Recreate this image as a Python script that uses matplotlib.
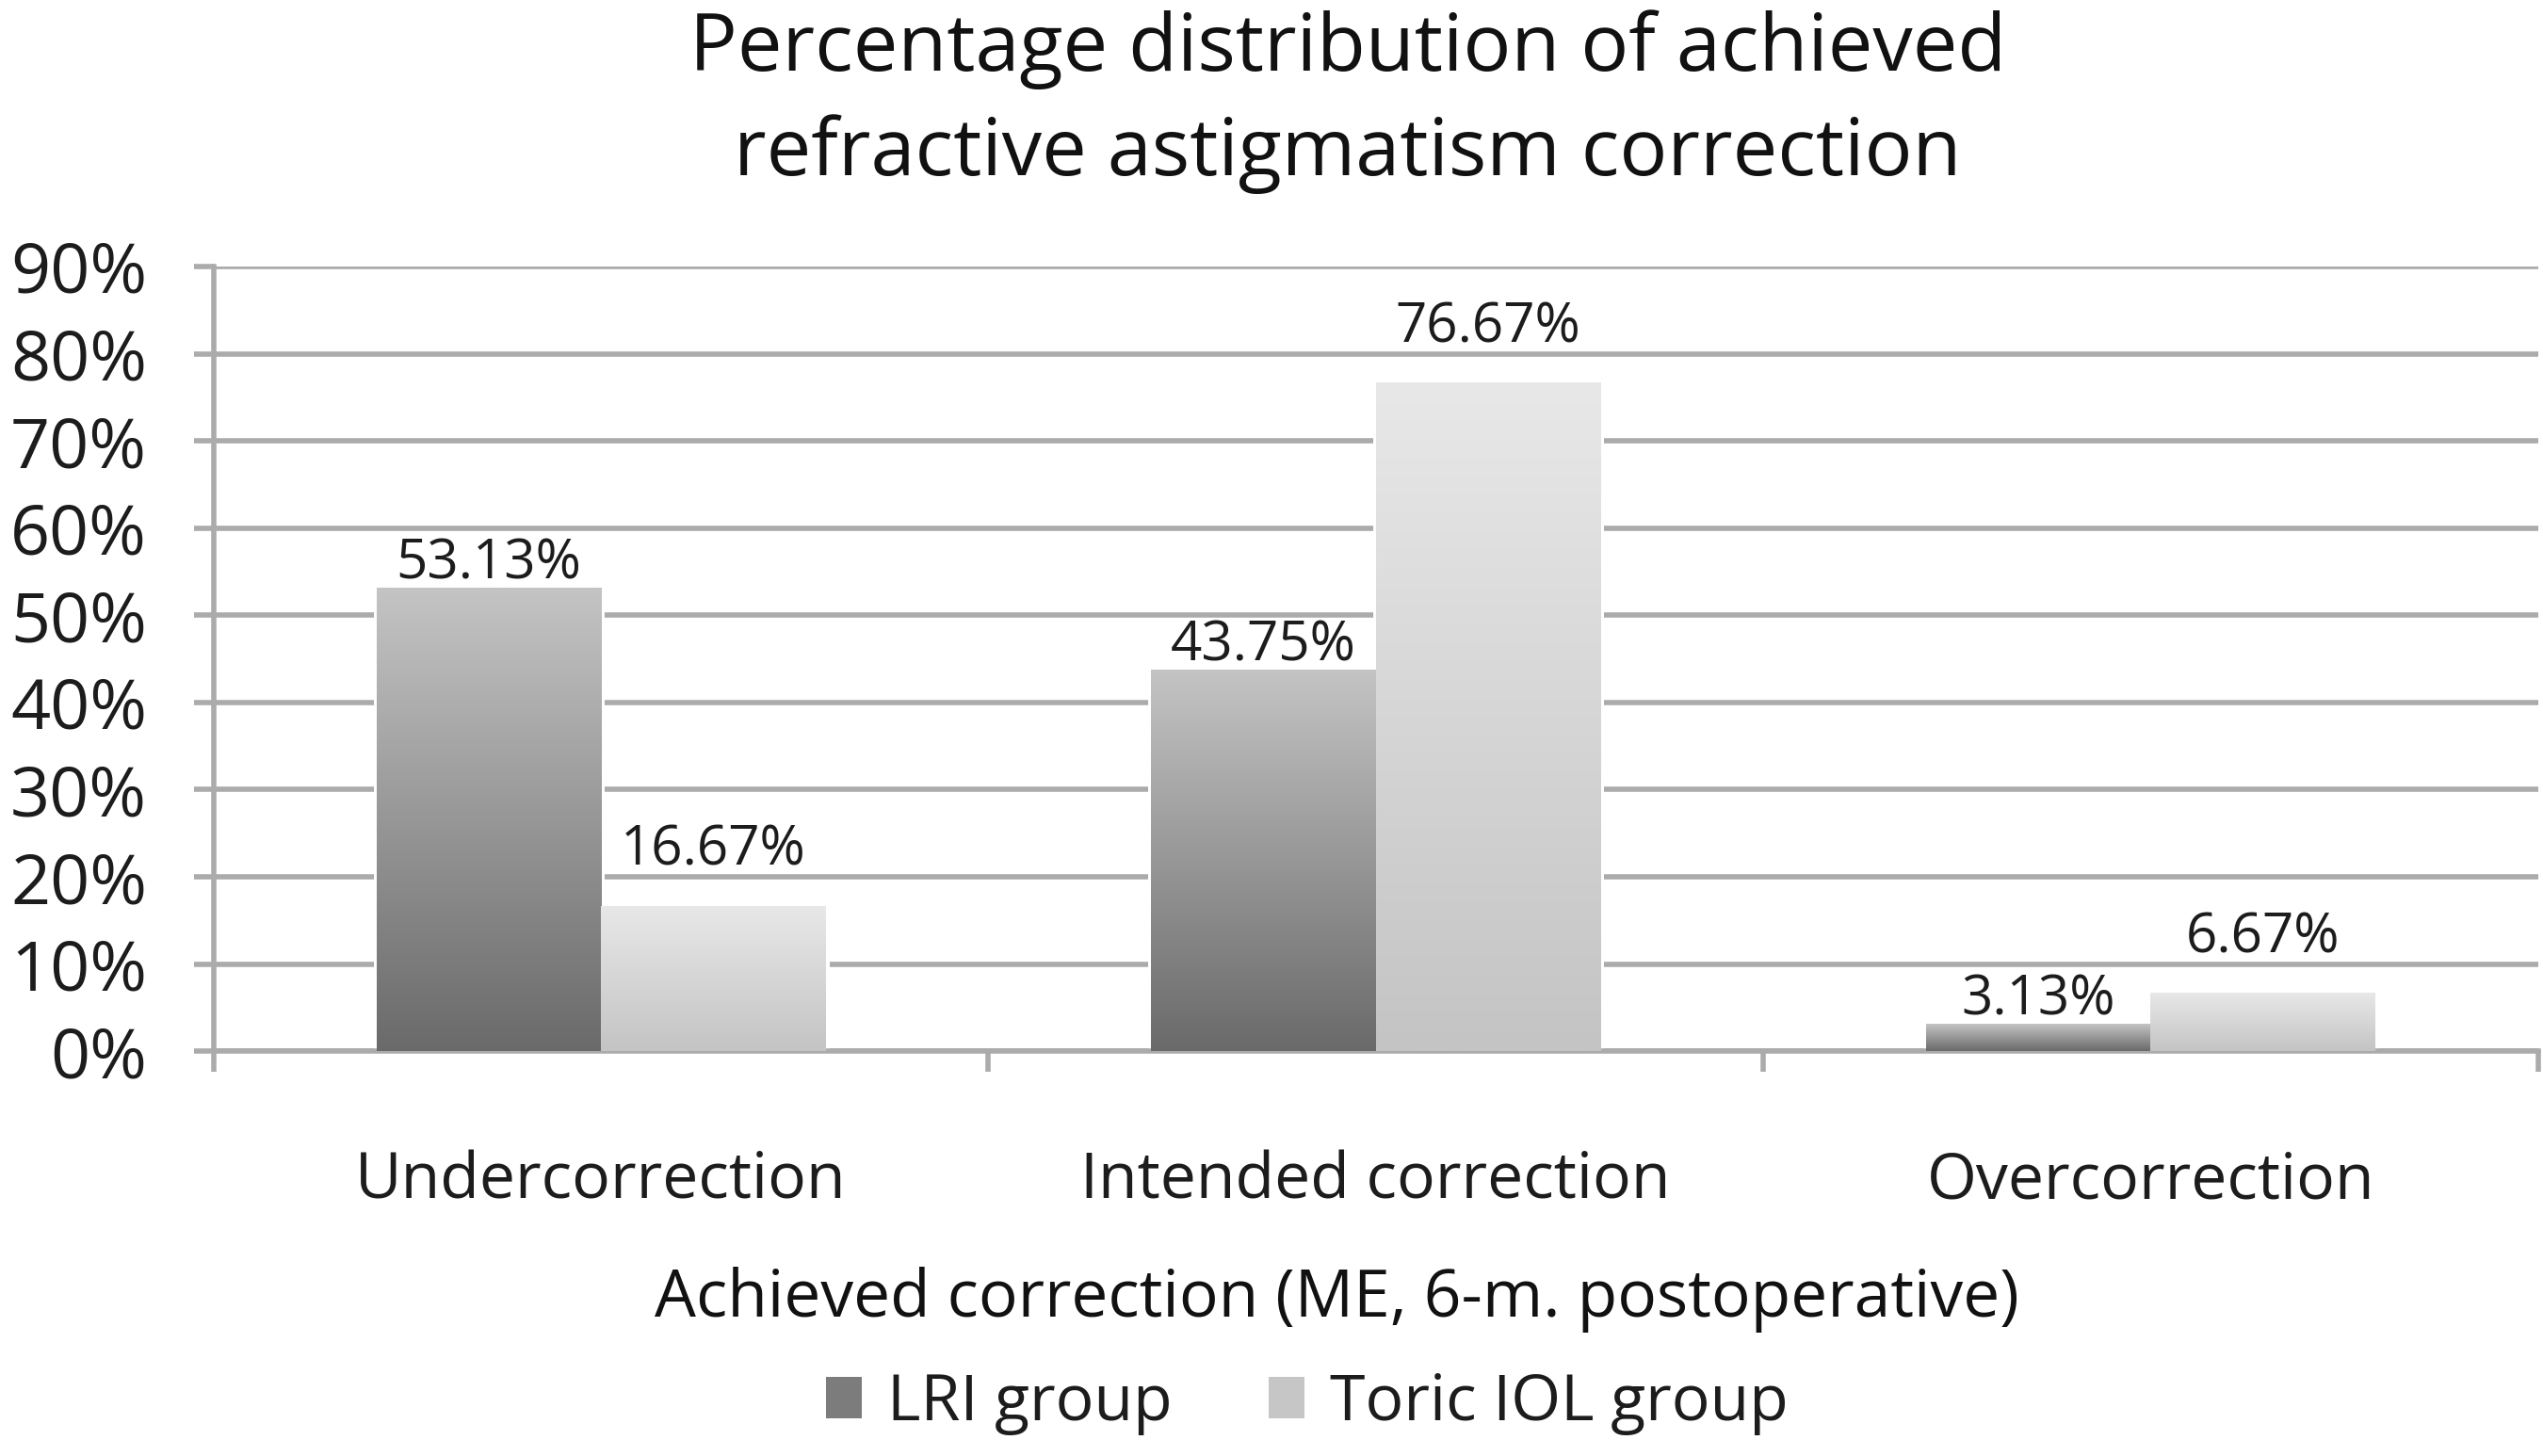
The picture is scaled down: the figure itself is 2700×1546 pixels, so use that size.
import numpy as np
import matplotlib
matplotlib.use("Agg")
import matplotlib.pyplot as plt
from matplotlib.colors import LinearSegmentedColormap
from matplotlib.patches import Patch
from matplotlib.ticker import FuncFormatter
from matplotlib.transforms import blended_transform_factory

plt.rcParams['font.family'] = ['Open Sans', 'DejaVu Sans']

categories = ["Undercorrection", "Intended correction", "Overcorrection"]
lri_values = [53.13, 43.75, 3.13]
toric_values = [16.67, 76.67, 6.67]
series_names = ["LRI group", "Toric IOL group"]

grid_col = "#ababab"
txt_col = "#1c1c1c"
lri_cmap = LinearSegmentedColormap.from_list("lri", ["#6a6a6a", "#c4c4c4"])
toric_cmap = LinearSegmentedColormap.from_list("toric", ["#c4c4c4", "#e8e8e8"])

fig = plt.figure(figsize=(27, 15.46), dpi=100)
ax = fig.add_axes([0.084, 0.278, 0.914, 0.539])

x = np.arange(len(categories))
w = 0.29
grad = np.linspace(0, 1, 256).reshape(-1, 1)


def gradient_bars(xpos, vals, cmap):
    bars = ax.bar(xpos, vals, w, facecolor="none", edgecolor="white",
                  linewidth=5, zorder=2)
    for b in bars:
        x0, h = b.get_x(), b.get_height()
        im = ax.imshow(grad, cmap=cmap, origin="lower", aspect="auto",
                       extent=[x0, x0 + w, 0, h], zorder=3)
        im.set_clip_path(b)
    return bars


gradient_bars(x - w / 2, lri_values, lri_cmap)
gradient_bars(x + w / 2, toric_values, toric_cmap)

# data labels: toric labels sit higher above their bars than the LRI ones
for xi, v in zip(x - w / 2, lri_values):
    ax.annotate(f"{v:.2f}%", (xi, v), xytext=(0, 7), textcoords="offset points",
                ha="center", va="baseline", fontsize=42, color=txt_col, zorder=5)
for xi, v in zip(x + w / 2, toric_values):
    ax.annotate(f"{v:.2f}%", (xi, v), xytext=(0, 31), textcoords="offset points",
                ha="center", va="baseline", fontsize=42, color=txt_col, zorder=5)

ax.set_xlim(-0.5, 2.5)
ax.set_ylim(0, 90)
ax.set_yticks(np.arange(0, 91, 10))
ax.yaxis.set_major_formatter(FuncFormatter(lambda v, p: f"{int(v)}%"))
ax.yaxis.grid(True, color=grid_col, linewidth=4, zorder=0)
ax.set_axisbelow(True)

ax.set_xticks(x)
ax.set_xticklabels([])
ax.set_xticks([-0.5, 0.5, 1.5, 2.5], minor=True)
ax.tick_params(axis="x", which="major", length=0)
ax.tick_params(axis="x", which="minor", length=16, width=4, color=grid_col)
ax.tick_params(axis="y", length=15, width=4, color=grid_col, pad=36,
               labelsize=53, labelcolor=txt_col)

for s in ["top", "right"]:
    ax.spines[s].set_visible(False)
for s in ["left", "bottom"]:
    ax.spines[s].set_color(grid_col)
    ax.spines[s].set_linewidth(4)

trans = blended_transform_factory(ax.transData, fig.transFigure)
for xi, c in zip(x, categories):
    ax.text(xi, 0.177, c, transform=trans, ha="center", va="baseline",
            fontsize=49, color=txt_col)

fig.text(0.530, 0.9515, "Percentage distribution of achieved", ha="center",
         va="baseline", fontsize=61, color="#111111")
fig.text(0.530, 0.880, "refractive astigmatism correction", ha="center",
         va="baseline", fontsize=61, color="#111111")
fig.text(0.5256, 0.0957, "Achieved correction (ME, 6-m. postoperative)",
         ha="center", va="baseline", fontsize=50, color="#111111")

handles = [Patch(facecolor="#7c7c7c"), Patch(facecolor="#c6c6c6")]
fig.legend(handles, series_names, loc="center", bbox_to_anchor=(0.514, 0.036),
           ncol=2, frameon=False, fontsize=49, handlelength=0.56,
           handleheight=0.62, handletextpad=0.4, columnspacing=1.5,
           labelcolor=txt_col)

fig.savefig("out.png", dpi=100, facecolor="white")
